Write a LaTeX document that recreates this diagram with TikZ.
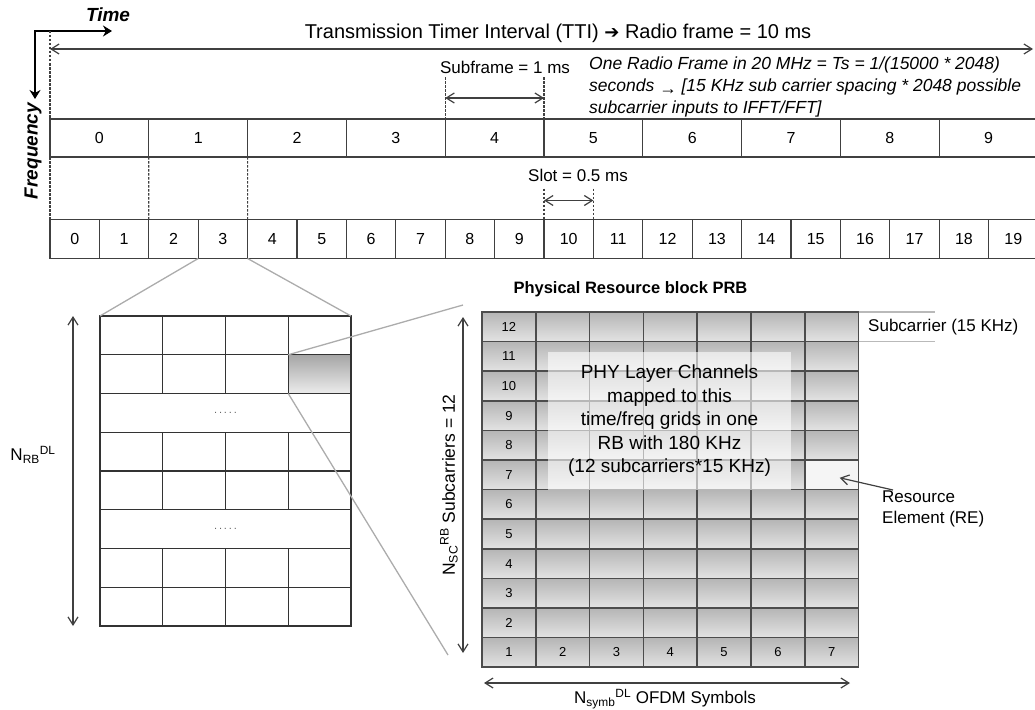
\documentclass[tikz,border=0pt]{standalone}
\usepackage{fontspec}
\setmainfont{Liberation Sans}
\newfontfamily\symfont{DejaVu Sans}
\usepackage{tikz}
\usetikzlibrary{arrows.meta, positioning, calc}
\tikzset{
    sf_cell/.style={rectangle, draw=black!75, line width=1.3pt, minimum width=98.8pt, minimum height=38pt, inner sep=0pt, outer sep=0pt, anchor=north west, font=\fontsize{16}{18}\selectfont},
    slot_cell/.style={sf_cell, minimum width=49.4pt, minimum height=39pt},
    rb_cell/.style={rectangle, draw=black!80, line width=1.3pt, minimum width=62.75pt, minimum height=38.75pt, inner sep=0pt, outer sep=0pt},
    rb_wide/.style={rb_cell, minimum width=251pt},
    rb_shaded/.style={rb_cell, top color=gray!70, bottom color=gray!15},
    prb_cell/.style={rectangle, draw=black!70, line width=1.5pt, minimum width=53.8pt, minimum height=29.6pt, inner sep=0pt, outer sep=0pt, top color=gray!58, bottom color=gray!22, font=\fontsize{13}{15}\selectfont},
    re_cell/.style={prb_cell, top color=gray!8, bottom color=gray!8},
    phy_box/.style={rectangle, fill=white, fill opacity=0.6, text opacity=1, minimum width=243pt, minimum height=138pt, align=center, font=\fontsize{19}{23.5}\selectfont},
    dash_line/.style={black!75, line width=1.2pt, dash pattern=on 2.5pt off 1.5pt},
    dim_arrow/.style={{Straight Barb[length=8pt,width=10pt]}-{Straight Barb[length=8pt,width=10pt]}, black!75, line width=1.2pt},
    one_arrow/.style={-{Straight Barb[length=8pt,width=10pt]}, black!75, line width=1.2pt},
    axis_arrow/.style={{Stealth[length=9pt,width=11pt]}-{Stealth[length=9pt,width=11pt]}, line width=2.6pt},
    axis_text/.style={font=\bfseries\itshape\fontsize{19}{21}\selectfont},
    zoom_line/.style={gray!65, line width=1.3pt},
    ext_line/.style={gray!55, line width=1.3pt}
}

\begin{document}
\begin{tikzpicture}[x=1pt, y=-1pt, font=\fontsize{17}{20}\selectfont]
    \useasboundingbox (0,0) rectangle (1035,709);

    % axes
    \coordinate (origin) at (35,31);
    \coordinate (t_end) at (112,31);
    \coordinate (f_end) at (35,99);
    \draw[axis_arrow] (t_end) -- (origin) -- (f_end);
    \node (time) [axis_text] at (108,15) {Time};
    \node (freq) [axis_text, rotate=90] at (33,151) {Frequency};

    % radio frame and subframes
    \coordinate (tti_l) at (50,49);
    \coordinate (tti_r) at (1033,49);
    \draw[dim_arrow] (tti_l) -- (tti_r);
    \node (tti) [font=\fontsize{20}{22}\selectfont] at (558,33) {Transmission Timer Interval (TTI) {\symfont\fontsize{18}{20}\selectfont ➔} Radio frame = 10 ms};

    \foreach \i in {0,...,9}
        \node (sf\i) [sf_cell] at ({50+98.8*\i},119) {\i};
    \foreach \i in {0,...,19}
        \node (sl\i) [slot_cell] at ({50+49.4*\i},219.5) {\i};

    \draw[dash_line] (sf0.north west |- origin) -- (sf0.north west);
    \draw[dash_line] (sf0.south west) -- (sl0.north west);
    \draw[dash_line] (sf1.south west) -- (sl2.north west);
    \draw[dash_line] (sf1.south east) -- (sl4.north west);

    \coordinate (sf_l) at ([yshift=42pt]sf4.north west);
    \coordinate (sf_r) at ([yshift=42pt]sf4.north east);
    \draw[dash_line] (sf_l) -- (sf4.north west);
    \draw[dash_line] (sf_r) -- (sf4.north east);
    \draw[dim_arrow] ($(sf_l)!0.5!(sf4.north west)$) -- ($(sf_r)!0.5!(sf4.north east)$);
    \node (sf_lbl) at (505,67) {Subframe = 1 ms};
    \node (note) [anchor=north west, align=left, inner sep=0pt, font=\itshape\fontsize{17.5}{22}\selectfont] at (589,57)
        {One Radio Frame in 20 MHz = Ts = 1/(15000 * 2048)\\seconds \raisebox{-0.3ex}{→} [15 KHz sub carrier spacing * 2048 possible\\subcarrier inputs to IFFT/FFT]};

    \coordinate (sl_l) at ([yshift=31pt]sl10.north west);
    \coordinate (sl_r) at ([yshift=31pt]sl10.north east);
    \draw[dash_line] (sl_l) -- (sl10.north west);
    \draw[dash_line] (sl_r) -- (sl10.north east);
    \draw[dim_arrow] ([yshift=19pt]sl10.north west) -- ([yshift=19pt]sl10.north east);
    \node (sl_lbl) at (578,175) {Slot = 0.5 ms};

    % resource blocks
    \foreach \r in {1,2,4,5,7,8}
        \foreach \c in {1,...,4}
            \node (rb\r\c) [rb_cell] at ({100+62.75*(\c-0.5)}, {316+38.75*(\r-0.5)}) {};
    \node (rb3) [rb_wide] at (225.5, {316+38.75*2.5}) {\color{black!60}\fontsize{11}{11}\selectfont .\,.\,.\,.\,.};
    \node (rb6) [rb_wide] at (225.5, {316+38.75*5.5}) {\color{black!60}\fontsize{11}{11}\selectfont .\,.\,.\,.\,.};
    \node (rb_sel) [rb_shaded] at (rb24) {};

    \draw[zoom_line] (sl2.south east) -- (rb11.north west);
    \draw[zoom_line] (sl3.south east) -- (rb14.north east);

    \coordinate (nrb_top) at ([xshift=-27pt]rb11.north west);
    \coordinate (nrb_bot) at ([xshift=-27pt]rb81.south west);
    \draw[dim_arrow] (nrb_top) -- (nrb_bot);
    \node (nrb) at (33,455) {N\textsubscript{RB}\textsuperscript{DL}};

    % physical resource block
    \node (prb_title) [anchor=west, font=\bfseries\fontsize{16.5}{19}\selectfont] at (510,289) {Physical Resource block PRB};
    \foreach \r in {1,...,12}
        \foreach \c in {1,...,7}{
            \ifnum\c=1 \edef\lbl{\r}\else\ifnum\r=1 \edef\lbl{\c}\else\def\lbl{}\fi\fi
            \node (p\r-\c) [prb_cell] at ({482+53.8*(\c-0.5)}, {312+29.6*(12.5-\r)}) {\lbl};
        }
    \node (re) [re_cell] at (p7-7) {};
    \node (phy) [phy_box] at (669.5,421) {PHY Layer Channels\\mapped to this\\time/freq grids in one\\RB with 180 KHz\\(12 subcarriers*15 KHz)};

    \coordinate (zt) at (463,305);
    \coordinate (zb) at (448,655);
    \draw[zoom_line] (rb_sel.north west) -- (zt);
    \draw[zoom_line] (rb_sel.south west) -- (zb);

    \coordinate (nsc_top) at (463,317);
    \coordinate (nsc_bot) at (463,653);
    \draw[dim_arrow] (nsc_top) -- (nsc_bot);
    \node (nsc) [rotate=90, font=\fontsize{17.5}{20}\selectfont] at (449,485) {N\textsubscript{SC}\textsuperscript{RB} Subcarriers = 12};

    \coordinate (sc_end) at (935,312);
    \draw[ext_line] (p12-7.north east) -- (sc_end);
    \draw[ext_line] (p12-7.south east) -- (sc_end |- p12-7.south east);
    \node (sc_lbl) [anchor=west, inner sep=0pt] at (868,327) {Subcarrier (15 KHz)};

    \node (re_lbl) [anchor=north west, align=left, inner sep=0pt, font=\fontsize{17}{21}\selectfont] at (882,491) {Resource\\Element (RE)};
    \draw[one_arrow] ([xshift=11pt,yshift=1pt]re_lbl.north west) -- ([xshift=8pt,yshift=-3pt]re.center);

    \coordinate (sym_l) at (484,683);
    \coordinate (sym_r) at (850,683);
    \draw[dim_arrow] (sym_l) -- (sym_r);
    \node (sym) at (665,699) {N\textsubscript{symb}\textsuperscript{DL} OFDM Symbols};
\end{tikzpicture}
\end{document}
